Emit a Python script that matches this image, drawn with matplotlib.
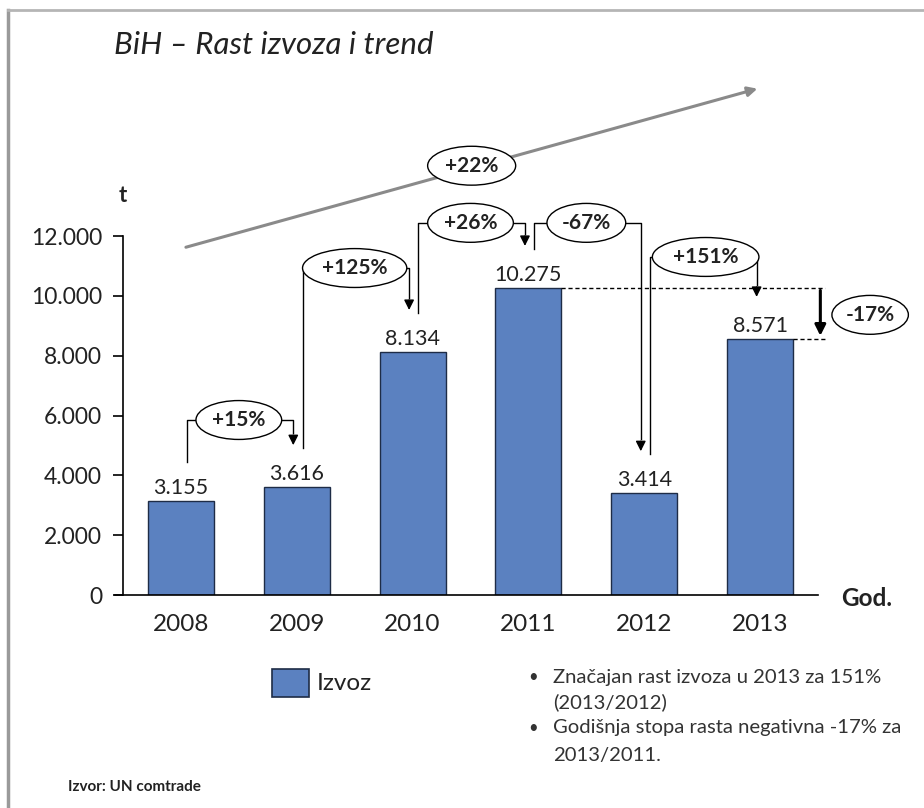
import matplotlib
matplotlib.use('Agg')
import matplotlib.pyplot as plt
import matplotlib.patches as patches
from matplotlib.ticker import FuncFormatter

plt.rcParams['font.family'] = ['Lato', 'DejaVu Sans']

# data
years = ['2008', '2009', '2010', '2011', '2012', '2013']
izvoz = [3155, 3616, 8134, 10275, 3414, 8571]
y_ticks = [0, 2000, 4000, 6000, 8000, 10000, 12000]
bullets = [['Značajan rast izvoza u 2013 za 151%', '(2013/2012)'],
           ['Godišnja stopa rasta negativna -17% za', '2013/2011.']]


def fmt_num(v):
    return f'{v:,.0f}'.replace(',', '.')


def fmt_pct(r):
    return f'{r * 100:+.0f}%'


bar_col = '#5b81c0'
edge_col = '#1e2c46'
txt_col = '#222222'

fig = plt.figure(figsize=(9.24, 8.08), dpi=100)
fig.patch.set_facecolor('white')
ax = fig.add_axes([0.1331, 0.2636, 0.7522, 0.4443])

x = list(range(len(years)))
ax.bar(x, izvoz, width=0.57, color=bar_col, edgecolor=edge_col, linewidth=1.0, zorder=2)

for xi, v in zip(x, izvoz):
    ax.annotate(fmt_num(v), (xi, v), xytext=(0, 2), textcoords='offset points',
                ha='center', va='bottom', fontsize=15.5, color=txt_col)

ax.set_xlim(-0.5, 5.5)
ax.set_ylim(0, 12000)
ax.set_yticks(y_ticks)
ax.yaxis.set_major_formatter(FuncFormatter(lambda v, p: fmt_num(v)))
ax.set_xticks(x)
ax.set_xticklabels(years)
ax.tick_params(axis='x', length=0, pad=14, labelsize=17.5, labelcolor=txt_col)
ax.tick_params(axis='y', length=7, width=1.2, direction='out', pad=8, labelsize=16.5, labelcolor=txt_col)
for s in ['top', 'right']:
    ax.spines[s].set_visible(False)
ax.spines['left'].set_linewidth(1.2)
ax.spines['bottom'].set_linewidth(1.2)
ax.spines['bottom'].set_bounds(-0.57, 5.5)

# year-to-year connectors
levels = [5850, 10930, 12440, 12440, 11300]
gap = 1300
ell_w = [0.74, 0.90, 0.74, 0.68, 0.92]
ell_h = 1300


def ellipse_label(cx, cy, w, label):
    e = patches.Ellipse((cx, cy), w, ell_h, facecolor='white', edgecolor='black',
                        linewidth=1.0, zorder=5, clip_on=False)
    ax.add_patch(e)
    ax.text(cx, cy, label, ha='center', va='center', fontsize=15, fontweight='bold',
            color=txt_col, zorder=6, clip_on=False)


for i in range(len(izvoz) - 1):
    r = izvoz[i + 1] / izvoz[i] - 1
    x0 = i + 0.05
    x1 = i + 0.97
    lv = levels[i]
    ax.plot([x0, x0, x1, x1], [izvoz[i] + gap, lv, lv, izvoz[i + 1] + gap + 500],
            color='black', lw=1.0, clip_on=False, zorder=3)
    ax.annotate('', xy=(x1, izvoz[i + 1] + gap), xytext=(x1, izvoz[i + 1] + gap + 520),
                arrowprops=dict(arrowstyle='-|>', color='black', lw=1.0, mutation_scale=15),
                annotation_clip=False, zorder=3)
    ellipse_label(i + 0.5 + (0.03 if i == 4 else 0), lv, ell_w[i], fmt_pct(r))

# -17% between 2011 and 2013
ax.plot([3.285, 5.56], [izvoz[3], izvoz[3]], color='black', lw=1.0, ls=(0, (3, 2)), clip_on=False)
ax.plot([5.285, 5.56], [izvoz[5], izvoz[5]], color='black', lw=1.0, ls=(0, (3, 2)), clip_on=False)
ax.annotate('', xy=(5.52, izvoz[5]), xytext=(5.52, izvoz[3]),
            arrowprops=dict(arrowstyle='-|>', color='black', lw=2.2, mutation_scale=16),
            annotation_clip=False)
ellipse_label(5.95, 9365, 0.66, fmt_pct(izvoz[5] / izvoz[3] - 1))

# trend arrow with average growth
cagr = (izvoz[-1] / izvoz[0]) ** (1 / (len(izvoz) - 1)) - 1
ax.annotate('', xy=(5.0, 16950), xytext=(0.02, 11600),
            arrowprops=dict(arrowstyle='-|>', color='#8a8a8a', lw=2.2, mutation_scale=14),
            annotation_clip=False)
ellipse_label(2.51, 14350, 0.76, fmt_pct(cagr))

# axis labels
fig.text(123 / 924, 1 - 195 / 808, 't', fontsize=16, fontweight='bold', ha='center', va='center',
         color=txt_col)
fig.text(867 / 924, 1 - 598 / 808, 'God.', fontsize=17.5, fontweight='bold', ha='center', va='center',
         color=txt_col)

# title
fig.text(114 / 924, 1 - 45 / 808, 'BiH – Rast izvoza i trend', fontsize=22.5, style='italic',
         ha='left', va='center', color=txt_col)

# legend
fig.patches.append(patches.Rectangle((272 / 924, 1 - 697 / 808), 37 / 924, 28 / 808,
                                     transform=fig.transFigure, facecolor=bar_col,
                                     edgecolor=edge_col, linewidth=1.2))
fig.text(317 / 924, 1 - 683 / 808, 'Izvoz', fontsize=17.5, ha='left', va='center', color=txt_col)

# notes
line_y = [677, 702, 728, 755]
k = 0
for b in bullets:
    fig.text(533 / 924, 1 - line_y[k] / 808, '•', fontsize=12, ha='center', va='center', color='#333333')
    for line in b:
        fig.text(553 / 924, 1 - line_y[k] / 808, line, fontsize=14.6, ha='left', va='center',
                 color='#333333')
        k += 1

fig.text(68 / 924, 1 - 787 / 808, 'Izvor: UN comtrade', fontsize=11, fontweight='bold',
         ha='left', va='center', color=txt_col)

# frame
fig.add_artist(plt.Line2D([8 / 924, 8 / 924], [0, 1 - 10 / 808], transform=fig.transFigure,
                          color='#9a9a9a', lw=2.5))
fig.add_artist(plt.Line2D([8 / 924, 1], [1 - 10 / 808, 1 - 10 / 808], transform=fig.transFigure,
                          color='#b5b5b5', lw=2))

fig.savefig('out.png', dpi=100, facecolor='white')
